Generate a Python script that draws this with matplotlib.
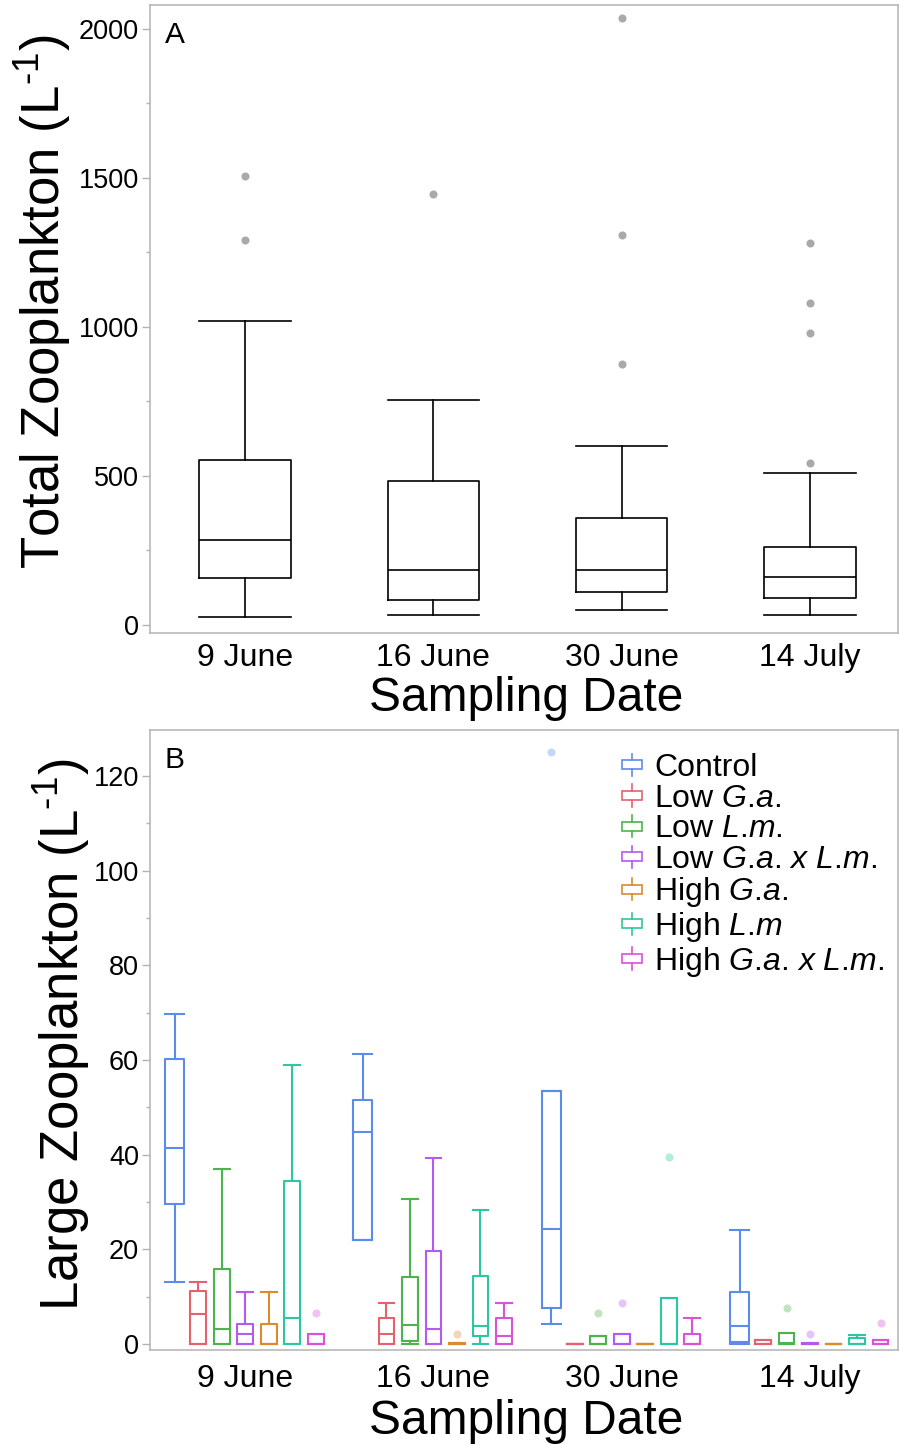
import matplotlib
matplotlib.use("Agg")
import matplotlib.pyplot as plt
from matplotlib.lines import Line2D
from matplotlib.patches import Rectangle
from matplotlib.legend_handler import HandlerBase
from matplotlib.ticker import MultipleLocator

plt.rcParams['font.family'] = ['Liberation Sans', 'DejaVu Sans']
plt.rcParams['mathtext.fontset'] = 'custom'
plt.rcParams['mathtext.rm'] = 'Liberation Sans'
plt.rcParams['mathtext.it'] = 'Liberation Sans:italic'

# ---------------- data ----------------
dates = ["9 June", "16 June", "30 June", "14 July"]

# Panel A: total zooplankton box statistics per date
a_whislo = [27, 34, 50, 34]
a_q1 = [158, 84, 111, 91]
a_med = [285, 185, 185, 161]
a_q3 = [554, 483, 359, 262]
a_whishi = [1020, 755, 600, 510]
a_fliers = [[1290, 1505], [1447], [877, 1308, 2035], [545, 978, 1080, 1280]]

# Panel B: large zooplankton, rows = treatments, cols = dates
treatments = ["Control",
              "Low $\\mathit{G}$.$\\mathit{a}$.",
              "Low $\\mathit{L}$.$\\mathit{m}$.",
              "Low $\\mathit{G}$.$\\mathit{a}$. $\\mathit{x}$ $\\mathit{L}$.$\\mathit{m}$.",
              "High $\\mathit{G}$.$\\mathit{a}$.",
              "High $\\mathit{L}$.$\\mathit{m}$",
              "High $\\mathit{G}$.$\\mathit{a}$. $\\mathit{x}$ $\\mathit{L}$.$\\mathit{m}$."]
colors = ["#5B8CEB", "#E4626E", "#4DB34D", "#B45AEE", "#DC8A2E", "#2CC6A0", "#D952D9"]

b_whislo = [[13.2, 21.9, 4.2, 0.0],
            [0.0, 0.0, 0.0, 0.0],
            [0.0, 0.0, 0.0, 0.0],
            [0.0, 0.0, 0.0, 0.0],
            [0.0, 0.0, 0.0, 0.0],
            [0.0, 0.0, 0.0, 0.0],
            [0.0, 0.0, 0.0, 0.0]]
b_q1 = [[29.6, 21.9, 7.7, 0.4],
        [0.0, 0.0, 0.0, 0.0],
        [0.0, 0.6, 0.0, 0.0],
        [0.0, 0.0, 0.0, 0.0],
        [0.0, 0.0, 0.0, 0.0],
        [0.0, 1.6, 0.0, 0.0],
        [0.0, 0.0, 0.0, 0.0]]
b_med = [[41.5, 44.7, 24.3, 3.7],
         [6.4, 2.2, 0.0, 0.0],
         [3.2, 4.1, 0.0, 0.2],
         [2.2, 3.2, 0.0, 0.1],
         [0.0, 0.0, 0.0, 0.0],
         [5.4, 3.8, 0.0, 0.0],
         [0.0, 1.6, 0.0, 0.0]]
b_q3 = [[60.1, 51.5, 53.4, 10.9],
        [11.2, 5.4, 0.0, 0.8],
        [15.8, 14.2, 1.6, 2.4],
        [4.2, 19.6, 2.2, 0.3],
        [4.2, 0.3, 0.0, 0.0],
        [34.4, 14.4, 9.7, 1.2],
        [2.2, 5.4, 2.2, 0.9]]
b_whishi = [[69.8, 61.2, 53.4, 24.0],
            [13.2, 8.6, 0.0, 0.8],
            [37.0, 30.6, 1.6, 2.4],
            [10.9, 39.3, 2.2, 0.3],
            [10.9, 0.3, 0.0, 0.0],
            [58.9, 28.3, 9.7, 2.0],
            [2.2, 8.6, 5.4, 0.9]]
b_fliers = [[[], [], [125.0], []],
            [[], [], [], []],
            [[], [], [6.6], [7.5]],
            [[], [], [8.7], [2.1]],
            [[], [2.2], [], []],
            [[], [], [39.5], []],
            [[6.6], [], [], [4.4]]]

# ---------------- figure ----------------
W, H = 899, 1445
fig = plt.figure(figsize=(W / 100, H / 100), dpi=100)
axA = fig.add_axes([150 / W, 1 - 633 / H, 748 / W, 628 / H])
axB = fig.add_axes([150 / W, 1 - 1350 / H, 748 / W, 620 / H])

spine_c = "#b3b3b3"
for ax in (axA, axB):
    for s in ax.spines.values():
        s.set_color(spine_c)
        s.set_linewidth(1.1)
    ax.set_xlim(-0.505, 3.467)
    ax.tick_params(axis='x', length=0, labelsize=23)
    ax.tick_params(axis='y', which='major', length=5.5, width=1.0, color=spine_c,
                   labelsize=19.5, pad=2.5)
    ax.tick_params(axis='y', which='minor', length=3, width=1.0, color=spine_c)

ylab_sup = "$^{\u2010\\mathregular{1}}$"

# Panel A
statsA = []
for i in range(len(dates)):
    statsA.append(dict(whislo=a_whislo[i], q1=a_q1[i], med=a_med[i], q3=a_q3[i],
                       whishi=a_whishi[i], fliers=a_fliers[i], label=dates[i]))
wA = 0.485
axA.bxp(statsA, positions=list(range(len(dates))), widths=wA, capwidths=wA,
        boxprops=dict(color="black", lw=1.2),
        whiskerprops=dict(color="black", lw=1.2),
        capprops=dict(color="black", lw=1.2),
        medianprops=dict(color="black", lw=1.2),
        flierprops=dict(marker='o', markerfacecolor="#a9a9a9", markeredgecolor='none',
                        markersize=5.8))
axA.set_xticks(range(len(dates)))
axA.set_xticklabels(dates)
axA.set_xlim(-0.505, 3.467)
axA.set_ylim(-26.8, 2080)
axA.yaxis.set_major_locator(MultipleLocator(500))
axA.yaxis.set_minor_locator(MultipleLocator(250))
axA.tick_params(axis='x', pad=7)
axA.set_ylabel("Total Zooplankton (L" + ylab_sup + ")", fontsize=38, va='center', ha='center')
axA.yaxis.set_label_coords(-0.143, 0.527)
axA.set_xlabel("Sampling Date", fontsize=34.5, va='center', ha='center')
axA.xaxis.set_label_coords(0.503, -0.105)
axA.text(0.02, 0.975, "A", transform=axA.transAxes, fontsize=21.5, va='top', ha='left')

# Panel B
step = 0.1248
for t in range(len(treatments)):
    c = colors[t]
    stats = []
    for d in range(len(dates)):
        stats.append(dict(whislo=b_whislo[t][d], q1=b_q1[t][d], med=b_med[t][d],
                          q3=b_q3[t][d], whishi=b_whishi[t][d],
                          fliers=b_fliers[t][d]))
    pos = [d + (t - 3) * step for d in range(len(dates))]
    w = 0.101 if t == 0 else 0.084
    axB.bxp(stats, positions=pos, widths=w, capwidths=w, manage_ticks=False,
            boxprops=dict(color=c, lw=1.5),
            whiskerprops=dict(color=c, lw=1.5),
            capprops=dict(color=c, lw=1.5),
            medianprops=dict(color=c, lw=1.5),
            flierprops=dict(marker='o', markerfacecolor=c, markeredgecolor='none',
                            alpha=0.35, markersize=5.8))
axB.set_xticks(range(len(dates)))
axB.set_xticklabels(dates)
axB.set_xlim(-0.505, 3.467)
axB.set_ylim(-1.27, 129.7)
axB.yaxis.set_major_locator(MultipleLocator(20))
axB.yaxis.set_minor_locator(MultipleLocator(10))
axB.tick_params(axis='x', pad=10)
axB.set_ylabel("Large Zooplankton (L" + ylab_sup + ")", fontsize=38, va='center', ha='center')
axB.yaxis.set_label_coords(-0.118, 0.508)
axB.set_xlabel("Sampling Date", fontsize=34.5, va='center', ha='center')
axB.xaxis.set_label_coords(0.503, -0.116)
axB.text(0.02, 0.975, "B", transform=axB.transAxes, fontsize=21.5, va='top', ha='left')


class BoxHandler(HandlerBase):
    def create_artists(self, legend, orig_handle, xdescent, ydescent, width, height,
                       fontsize, trans):
        c = orig_handle.get_color()
        cx = width / 2 - xdescent
        cy = height / 2 - ydescent
        bw, bh, wl = 14.0, 6.5, 16.0
        rect = Rectangle((cx - bw / 2, cy - bh / 2), bw, bh, fill=False, ec=c, lw=1.2,
                         transform=trans)
        l1 = Line2D([cx, cx], [cy + bh / 2, cy + wl / 2], color=c, lw=1.2, transform=trans)
        l2 = Line2D([cx, cx], [cy - wl / 2, cy - bh / 2], color=c, lw=1.2, transform=trans)
        return [rect, l1, l2]


handles = [Line2D([], [], color=c) for c in colors]
axB.legend(handles, treatments, handler_map={Line2D: BoxHandler()},
           loc='upper left', bbox_to_anchor=((617.6 - 150) / 748, 0.963),
           frameon=False, fontsize=23, handlelength=0.9, handletextpad=0.25,
           labelspacing=0.02, borderpad=0, borderaxespad=0)

fig.savefig("out.png", dpi=100)
